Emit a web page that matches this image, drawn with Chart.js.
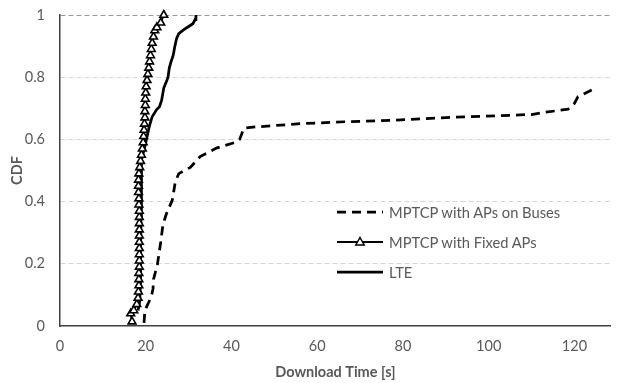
<!DOCTYPE html>
<html>
<head>
<meta charset="utf-8">
<script src="https://cdn.jsdelivr.net/npm/chart.js@4/dist/chart.umd.min.js"></script>
<style>
  html, body { margin: 0; padding: 0; background: #fff; }
  #wrap { position: relative; width: 617px; height: 383px; }
  #legend { position: absolute; left: 337px; top: 197px; font-family: Lato, "Open Sans", sans-serif; font-size: 14.7px; color: #595959; }
  .item { height: 30px; display: flex; align-items: center; position: relative; }
  .item svg { width: 48px; height: 20px; margin-right: 4px; }
</style>
</head>
<body>
<div id="wrap">
  <canvas id="c" width="617" height="383"></canvas>
  <div id="legend">
    <div class="item"><svg viewBox="0 0 48 20"><line x1="0" y1="10" x2="46" y2="10" stroke="#000" stroke-width="2.75" stroke-dasharray="9,6"/></svg>MPTCP with APs on Buses</div>
    <div class="item"><svg viewBox="0 0 48 20"><line x1="0" y1="10" x2="46" y2="10" stroke="#000" stroke-width="2"/><polygon points="23,5.5 27.2,13 18.8,13" fill="#fff" stroke="#000" stroke-width="1.5"/></svg>MPTCP with Fixed APs</div>
    <div class="item"><svg viewBox="0 0 48 20"><line x1="0" y1="10" x2="46" y2="10" stroke="#000" stroke-width="2.75"/></svg>LTE</div>
  </div>
</div>
<script>
// ---- data (Download Time [s], CDF) ----
const busesX = [19.6, 19.8, 21.3, 21.7, 21.8, 22.7, 23.5, 24.0, 24.8, 26.2, 26.9, 27.7, 30.4, 32.7, 36.5, 40.8, 41.9, 42.9, 45.5, 55.4, 66.9, 78.5, 90.0, 101.5, 110.0, 113.0, 118.5, 120.0, 120.8, 124.5];
const busesY = [0.01, 0.05, 0.094, 0.12, 0.15, 0.196, 0.27, 0.325, 0.36, 0.405, 0.464, 0.49, 0.51, 0.545, 0.572, 0.59, 0.60, 0.636, 0.64, 0.65, 0.657, 0.662, 0.67, 0.676, 0.68, 0.687, 0.697, 0.716, 0.737, 0.762];

const fixedX = [16.8, 16.5, 17.2, 17.9, 18.2, 18.3, 18.4, 18.4, 18.4, 18.5, 18.5, 18.5, 18.5, 18.5, 18.5, 18.5, 18.5, 18.5, 18.5, 18.4, 18.4, 18.3, 18.3, 18.3, 18.4, 18.6, 18.8, 19.0, 19.2, 19.4, 19.5, 19.6, 19.7, 19.8, 19.8, 19.9, 19.9, 20.0, 20.1, 20.3, 20.5, 20.7, 20.9, 21.1, 21.3, 21.5, 21.8, 22.1, 22.6, 23.5, 24.2];
const fixedY = [0.014, 0.04, 0.05, 0.07, 0.09, 0.11, 0.13, 0.15, 0.17, 0.19, 0.21, 0.23, 0.25, 0.27, 0.29, 0.31, 0.33, 0.35, 0.37, 0.39, 0.41, 0.43, 0.45, 0.47, 0.49, 0.51, 0.53, 0.55, 0.57, 0.59, 0.61, 0.63, 0.65, 0.67, 0.69, 0.71, 0.73, 0.75, 0.77, 0.79, 0.81, 0.83, 0.85, 0.87, 0.89, 0.91, 0.93, 0.95, 0.96, 0.975, 1.0];

const lteX = [18.2, 18.6, 18.8, 18.8, 18.9, 18.9, 19.0, 19.1, 19.8, 20.8, 21.5, 22.5, 23.2, 23.7, 24.2, 24.8, 25.2, 25.5, 25.9, 26.4, 26.8, 27.2, 27.7, 28.8, 30.0, 31.0, 31.5, 31.7];
const lteY = [0.05, 0.08, 0.15, 0.25, 0.35, 0.45, 0.50, 0.534, 0.577, 0.64, 0.673, 0.695, 0.705, 0.725, 0.765, 0.785, 0.80, 0.83, 0.85, 0.87, 0.90, 0.925, 0.94, 0.952, 0.963, 0.972, 0.985, 1.0];

const xTicks = [0, 20, 40, 60, 80, 100, 120];
const yTicks = [0, 0.2, 0.4, 0.6, 0.8, 1];

const toPts = (xs, ys) => xs.map((x, i) => ({ x: x, y: ys[i] }));

const gray = '#595959';
const tickFont = { family: 'Lato, "Open Sans", sans-serif', size: 14.5 };
const titleFont = { family: 'Lato, "Open Sans", sans-serif', size: 14.5, weight: 'bold' };

new Chart(document.getElementById('c'), {
  type: 'scatter',
  data: {
    datasets: [
      {
        label: 'MPTCP with APs on Buses',
        data: toPts(busesX, busesY),
        showLine: true,
        borderColor: '#000',
        borderWidth: 2.75,
        borderDash: [9, 6],
        pointRadius: 0,
        tension: 0,
        clip: false
      },
      {
        label: 'MPTCP with Fixed APs',
        data: toPts(fixedX, fixedY),
        showLine: true,
        borderColor: '#000',
        borderWidth: 2,
        pointStyle: 'triangle',
        pointRadius: 4.5,
        pointBorderWidth: 1.6,
        pointBackgroundColor: '#fff',
        pointBorderColor: '#000',
        tension: 0,
        clip: false
      },
      {
        label: 'LTE',
        data: toPts(lteX, lteY),
        showLine: true,
        borderColor: '#000',
        borderWidth: 2.75,
        pointRadius: 0,
        tension: 0,
        clip: false
      }
    ]
  },
  options: {
    responsive: false,
    animation: false,
    events: [],
    layout: { padding: { top: 15, right: 0, left: 0, bottom: 0 } },
    plugins: { legend: { display: false }, tooltip: { enabled: false } },
    scales: {
      x: {
        type: 'linear',
        min: 0,
        max: 128.5,
        afterFit: s => { s.height = 57; s.paddingLeft = 0; s.paddingRight = 0; },
        afterBuildTicks: s => { s.ticks = xTicks.map(v => ({ value: v })); },
        ticks: { color: gray, font: tickFont, padding: 12, maxRotation: 0, includeBounds: false },
        grid: { display: false, drawTicks: false },
        border: { display: true, color: '#404040', width: 1.5 },
        title: { display: true, text: 'Download Time [s]', color: gray, font: titleFont, padding: { top: 4, bottom: 2 } }
      },
      y: {
        type: 'linear',
        min: 0,
        max: 1,
        afterFit: s => { s.width = 60; s.paddingTop = 0; s.paddingBottom = 0; },
        afterBuildTicks: s => { s.ticks = yTicks.map(v => ({ value: v })); },
        ticks: { color: gray, font: tickFont, padding: 15, callback: v => String(v) },
        grid: {
          drawTicks: false,
          color: ctx => (ctx.tick && ctx.tick.value === 1) ? '#9a9a9a' : (ctx.tick && ctx.tick.value === 0 ? 'rgba(0,0,0,0)' : '#d6d6d6'),
          lineWidth: 1
        },
        border: { display: true, color: '#404040', width: 1.5, dash: [5, 3] },
        title: { display: true, text: 'CDF', color: gray, font: titleFont, padding: { top: 9, bottom: 0 } }
      }
    }
  }
});
</script>
</body>
</html>
